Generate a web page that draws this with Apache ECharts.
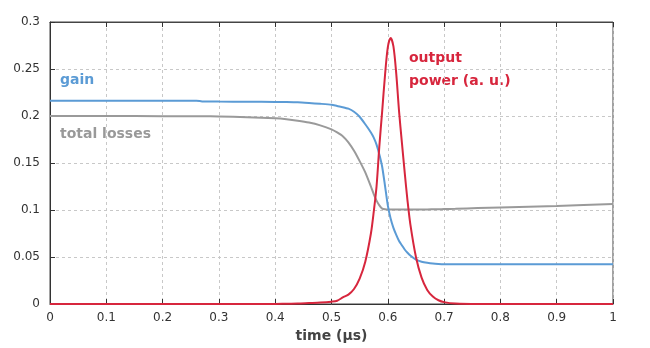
<!DOCTYPE html>
<html><head><meta charset="utf-8">
<script src="https://cdn.jsdelivr.net/npm/echarts@6/dist/echarts.min.js"></script>
<style>html,body{margin:0;padding:0;background:#fff}#c{width:650px;height:348px}</style>
</head><body><div id="c"></div>
<script>
var times  = [0, 0.1, 0.2, 0.26, 0.27, 0.3, 0.35, 0.4, 0.42, 0.44, 0.46, 0.48, 0.5, 0.51, 0.52, 0.53, 0.54, 0.55, 0.56, 0.57, 0.575, 0.58, 0.585, 0.59, 0.595, 0.6, 0.605, 0.61, 0.615, 0.62, 0.625, 0.63, 0.635, 0.64, 0.65, 0.66, 0.67, 0.68, 0.69, 0.7, 0.72, 0.76, 0.8, 0.9, 1.0];
var gain   = [0.2163, 0.2163, 0.2163, 0.2163, 0.2155, 0.2153, 0.2152, 0.215, 0.2148, 0.2145, 0.2138, 0.213, 0.212, 0.2106, 0.2094, 0.2078, 0.2045, 0.1992, 0.1912, 0.1825, 0.177, 0.1695, 0.159, 0.146, 0.126, 0.105, 0.091, 0.081, 0.0735, 0.067, 0.0625, 0.058, 0.0545, 0.0515, 0.0472, 0.045, 0.0438, 0.043, 0.0426, 0.0424, 0.0424, 0.0424, 0.0424, 0.0424, 0.0424];
var losses = [0.2, 0.2, 0.1998, 0.1997, 0.1997, 0.1995, 0.1988, 0.1975, 0.1965, 0.195, 0.193, 0.19, 0.1858, 0.1825, 0.1785, 0.172, 0.163, 0.152, 0.14, 0.125, 0.117, 0.11, 0.105, 0.1015, 0.1007, 0.1005, 0.1005, 0.1005, 0.1005, 0.1005, 0.1005, 0.1005, 0.1005, 0.1005, 0.1005, 0.1006, 0.1006, 0.1007, 0.1008, 0.101, 0.1013, 0.102, 0.1027, 0.1043, 0.1064];
var power  = [0, 0, 0, 0, 0, 0, 0, 0, 0.0003, 0.0005, 0.001, 0.0015, 0.0025, 0.0035, 0.007, 0.01, 0.016, 0.027, 0.045, 0.075, 0.098, 0.125, 0.168, 0.205, 0.243, 0.273, 0.283, 0.274, 0.245, 0.205, 0.172, 0.14, 0.11, 0.085, 0.05, 0.028, 0.015, 0.008, 0.004, 0.002, 0.0005, 0, 0, 0, 0];
var xTicks = [0, 0.1, 0.2, 0.3, 0.4, 0.5, 0.6, 0.7, 0.8, 0.9, 1];
var yTicks = [0, 0.05, 0.1, 0.15, 0.2, 0.25, 0.3];

function pairs(v){ return times.map(function(t,i){ return [t, v[i]]; }); }
var FONT = 'DejaVu Sans';
var chart = echarts.init(document.getElementById('c'), null, {renderer:'canvas'});
var gridLine = {show:true, lineStyle:{color:'#c8c8c8', type:[3,3], width:1}};
chart.setOption({
  animation:false,
  backgroundColor:'#fff',
  grid:{left:50, right:37, top:22, bottom:44, show:true, borderColor:'#444', borderWidth:1, backgroundColor:'transparent'},
  xAxis:[{
    type:'value', min:0, max:1, interval:0.1,
    name:'time (µs)', nameLocation:'middle', nameGap:24,
    nameTextStyle:{fontFamily:FONT, fontSize:14, fontWeight:'bold', color:'#444'},
    axisLine:{show:true, lineStyle:{color:'#333'}},
    axisTick:{show:true, inside:true, length:5, lineStyle:{color:'#333'}},
    axisLabel:{fontFamily:FONT, fontSize:12, color:'#333', margin:8,
      formatter:function(v){ return String(Math.round(v*10)/10); }},
    splitLine:gridLine
  },{
    type:'value', min:0, max:1, interval:0.1, position:'top',
    axisLine:{show:true, lineStyle:{color:'#444'}},
    axisTick:{show:true, inside:true, length:5, lineStyle:{color:'#333'}},
    axisLabel:{show:false}, splitLine:{show:false}
  }],
  yAxis:{
    type:'value', min:0, max:0.3, interval:0.05,
    axisLine:{show:true, lineStyle:{color:'#333'}},
    axisTick:{show:true, inside:true, length:5, lineStyle:{color:'#333'}},
    axisLabel:{fontFamily:FONT, fontSize:12, color:'#333', margin:10,
      formatter:function(v){ return String(Math.round(v*100)/100); }},
    splitLine:gridLine
  },
  series:[
    {type:'line', name:'total losses', data:pairs(losses), showSymbol:false, smooth:0.2, lineStyle:{color:'#9a9a9a', width:2}, z:2},
    {type:'line', name:'gain', data:pairs(gain), showSymbol:false, smooth:0.2, lineStyle:{color:'#5b9bd5', width:2}, z:3},
    {type:'line', name:'output power', data:pairs(power), showSymbol:false, smooth:0.3, lineStyle:{color:'#d7263d', width:2}, z:4}
  ],
  graphic:[
    {type:'text', left:60, top:73, style:{text:'gain', fontFamily:FONT, fontSize:14, fontWeight:'bold', fill:'#5b9bd5'}},
    {type:'text', left:60, top:127, style:{text:'total losses', fontFamily:FONT, fontSize:14, fontWeight:'bold', fill:'#999999'}},
    {type:'text', left:409, top:47, style:{text:'output\npower (a. u.)', fontFamily:FONT, fontSize:14, fontWeight:'bold', fill:'#d7263d', lineHeight:23}}
  ]
});
</script></body></html>
